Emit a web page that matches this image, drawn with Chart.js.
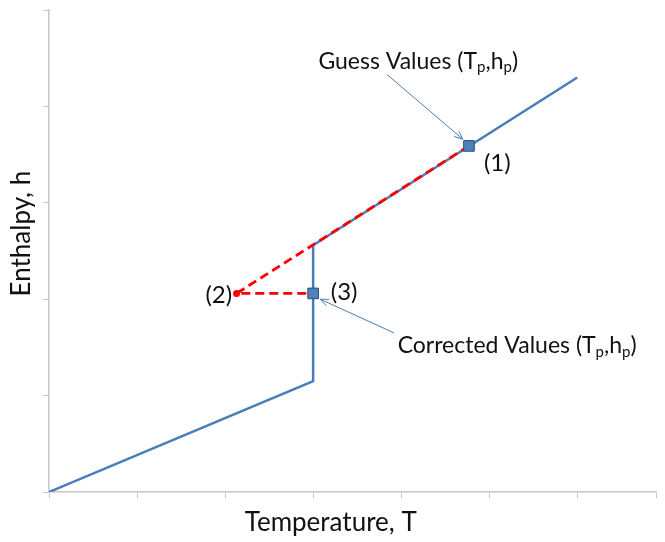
<!DOCTYPE html>
<html>
<head>
<meta charset="utf-8">
<script src="https://cdn.jsdelivr.net/npm/chart.js@4.4.1/dist/chart.umd.min.js"></script>
<style>
  body { margin:0; background:#fff; }
</style>
</head>
<body>
<canvas id="enthalpyChart" width="665" height="542"></canvas>
<script>
// enthalpy curve (T, h) : sensible -> phase change -> sensible
const curveT = [0, 3, 3, 6];
const curveH = [0, 1.15, 2.56, 4.3];

// iteration path : (1) guess -> (2) -> (3) corrected
const iterT = [4.77, 2.13, 3];
const iterH = [3.59, 2.06, 2.06];

// square markers at guess and corrected values
const markT = [4.77, 3];
const markH = [3.59, 2.06];

const axisTitleX = 'Temperature, T';
const axisTitleY = 'Enthalpy, h';

const FONT = 'Lato, "Open Sans", sans-serif';
const BLUE = '#4a7ebb';

function pts(xs, ys){
  return xs.map((x, i) => ({x: x, y: ys[i]}));
}

// draws text with subscript pieces, left aligned, middle baseline
function richText(ctx, x, y, parts, size){
  ctx.textBaseline = 'middle';
  ctx.textAlign = 'left';
  let cx = x;
  parts.forEach(p => {
    if (p.sub){
      ctx.font = Math.round(size*0.65) + 'px ' + FONT;
      ctx.fillText(p.t, cx, y + size*0.28);
    } else {
      ctx.font = size + 'px ' + FONT;
      ctx.fillText(p.t, cx, y);
    }
    cx += ctx.measureText(p.t).width;
  });
}

function arrow(ctx, x0, y0, x1, y1){
  const a = Math.atan2(y1 - y0, x1 - x0);
  const L = 9;
  ctx.beginPath();
  ctx.moveTo(x0, y0);
  ctx.lineTo(x1, y1);
  ctx.moveTo(x1 - L*Math.cos(a - 0.4), y1 - L*Math.sin(a - 0.4));
  ctx.lineTo(x1, y1);
  ctx.lineTo(x1 - L*Math.cos(a + 0.4), y1 - L*Math.sin(a + 0.4));
  ctx.stroke();
}

const notes = {
  id: 'notes',
  afterDraw(chart){
    const ctx = chart.ctx;
    const sx = chart.scales.x, sy = chart.scales.y;
    const px = v => sx.getPixelForValue(v);
    const py = v => sy.getPixelForValue(v);
    const area = chart.chartArea;
    ctx.save();
    ctx.fillStyle = '#111';

    // axis titles
    ctx.font = '26px ' + FONT;
    ctx.textAlign = 'center';
    ctx.textBaseline = 'middle';
    ctx.fillText(axisTitleX, px(3.2), area.bottom + 31);
    ctx.save();
    ctx.translate(area.left - 27, py(2.68));
    ctx.rotate(-Math.PI/2);
    ctx.fillText(axisTitleY, 0, 0);
    ctx.restore();

    // annotations
    const sub = [{t:'Guess Values (T'},{t:'p',sub:true},{t:',h'},{t:'p',sub:true},{t:')'}];
    richText(ctx, px(3.06), py(4.47), sub, 23);
    const sub2 = [{t:'Corrected Values (T'},{t:'p',sub:true},{t:',h'},{t:'p',sub:true},{t:')'}];
    richText(ctx, px(3.96), py(1.52), sub2, 23);

    ctx.font = '24px ' + FONT;
    ctx.textBaseline = 'middle';
    ctx.textAlign = 'left';
    ctx.fillText('(1)', px(4.94), py(3.41));
    ctx.fillText('(3)', px(3.2), py(2.07));
    ctx.textAlign = 'right';
    ctx.fillText('(2)', px(2.08), py(2.04));

    ctx.strokeStyle = BLUE;
    ctx.lineWidth = 1;
    arrow(ctx, px(3.84), py(4.33), px(4.70), py(3.66));
    arrow(ctx, px(3.92), py(1.65), px(3.08), py(2.0));
    ctx.restore();
  }
};

new Chart(document.getElementById('enthalpyChart'), {
  type: 'scatter',
  data: {
    datasets: [
      {
        data: pts(curveT, curveH),
        showLine: true,
        borderColor: BLUE,
        borderWidth: 2.5,
        pointRadius: 0,
        order: 3
      },
      {
        data: pts(iterT, iterH),
        showLine: true,
        borderColor: '#ff0000',
        backgroundColor: '#ff0000',
        borderWidth: 2.8,
        borderDash: [9, 5],
        pointRadius: [0, 3.5, 0],
        pointBorderWidth: 0,
        order: 2
      },
      {
        data: pts(markT, markH),
        showLine: false,
        pointStyle: 'rect',
        pointRadius: 7.5,
        backgroundColor: '#4f81bd',
        borderColor: '#2c4d75',
        borderWidth: 1,
        order: 1
      }
    ]
  },
  options: {
    responsive: false,
    animation: false,
    layout: { padding: { top: 10, right: 5, left: 0, bottom: 0 } },
    plugins: { legend: { display: false }, tooltip: { enabled: false } },
    scales: {
      x: {
        type: 'linear',
        min: 0,
        max: 6.9,
        ticks: { display: false, stepSize: 1 },
        grid: { drawOnChartArea: false, color: '#c8c8c8', tickLength: 6 },
        border: { color: '#c8c8c8', width: 1.5 },
        afterFit(scale){ scale.height = 50; }
      },
      y: {
        type: 'linear',
        min: 0,
        max: 5,
        ticks: { display: false, stepSize: 1 },
        grid: { drawOnChartArea: false, color: '#c8c8c8', tickLength: 6 },
        border: { color: '#c8c8c8', width: 1.5 },
        afterFit(scale){ scale.width = 49; }
      }
    }
  },
  plugins: [notes]
});
</script>
</body>
</html>
